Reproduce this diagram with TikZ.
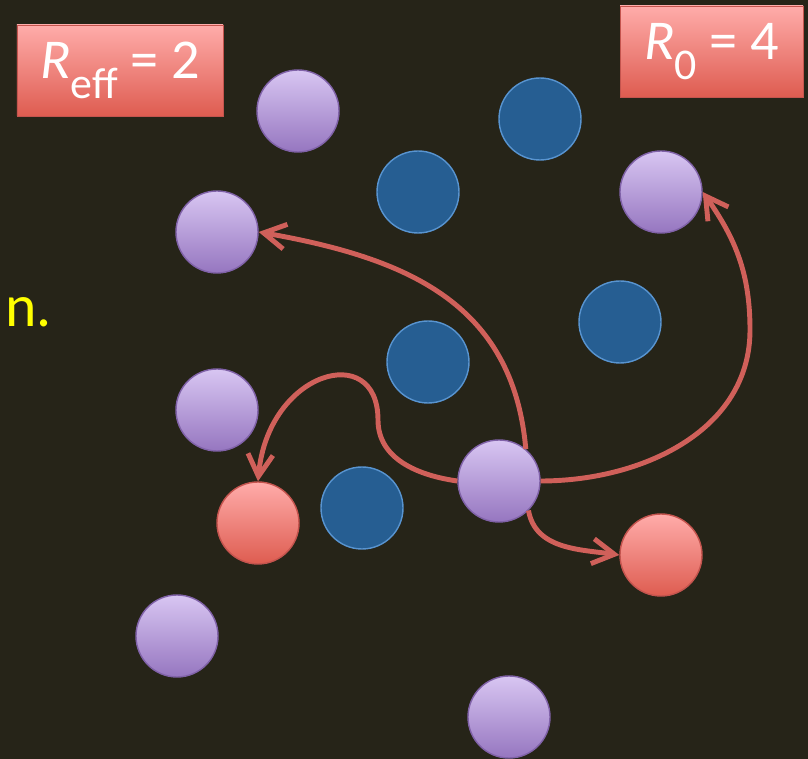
\documentclass[tikz,border=0pt]{standalone}
\usepackage{fontspec}
\setmainfont{Carlito}
\usetikzlibrary{arrows.meta}
\definecolor{bgdark}{RGB}{38,36,24}
\definecolor{spreadred}{RGB}{208,96,90}
\definecolor{purtop}{RGB}{216,198,242}
\definecolor{purbot}{RGB}{150,118,192}
\definecolor{purline}{RGB}{128,98,168}
\definecolor{redtop}{RGB}{255,172,170}
\definecolor{redbot}{RGB}{222,92,80}
\definecolor{redline}{RGB}{196,84,78}
\definecolor{bluefill}{RGB}{38,94,146}
\definecolor{blueline}{RGB}{88,148,208}
\definecolor{hiyellow}{RGB}{255,255,0}
\newcommand{\lowsub}[1]{\raisebox{-0.36em}{\fontsize{25}{25}\selectfont #1}}

\begin{document}
\begin{tikzpicture}[pers/.style={circle,minimum size=1.64cm,inner sep=0pt,line width=0.8pt}, sus/.style={pers,draw=purline,top color=purtop,bottom color=purbot}, inf/.style={pers,draw=redline,top color=redtop,bottom color=redbot}, imm/.style={pers,draw=blueline,fill=bluefill}, rbox/.style={draw=redline,top color=redtop,bottom color=redbot,minimum height=1.82cm,inner sep=0pt,text=white,font=\fontsize{32}{36}\selectfont}, arr/.style={-{Straight Barb[length=4.4mm,width=5mm]},line width=2.8pt,spreadred}]
\fill[bgdark] (0,0) rectangle (16.16,15.18);
\useasboundingbox (0,0) rectangle (16.16,15.18);
\node[rbox,minimum width=4.12cm] (reff) at (2.40,13.77) {\textit{R}\lowsub{eff} = 2};
\node[rbox,minimum width=3.66cm] (rzero) at (14.23,14.15) {\textit{R}\lowsub{0} = 4};
\node[anchor=base west,inner sep=0pt,text=hiyellow,font=\fontsize{34}{38}\selectfont] (tail) at (0.10,8.64) {n.};
\node[sus] (p1) at (5.96,12.96) {};
\node[sus] (p2) at (4.34,10.54) {};
\node[sus] (p3) at (13.22,11.34) {};
\node[sus] (p4) at (4.34,6.98) {};
\node[sus] (pc) at (9.98,5.56) {};
\node[sus] (p5) at (3.54,2.46) {};
\node[sus] (p6) at (10.18,0.84) {};
\node[imm] (b1) at (10.80,12.80) {};
\node[imm] (b2) at (8.36,11.34) {};
\node[imm] (b3) at (12.40,8.74) {};
\node[imm] (b4) at (8.56,7.94) {};
\node[imm] (b5) at (7.24,5.02) {};
\node[inf] (r1) at (5.16,4.72) {};
\node[inf] (r2) at (13.22,4.08) {};
\coordinate (bendl) at (7.56,6.78);
\coordinate (bendr) at (15.00,8.58);
\draw[arr] (pc.50) to[out=95,in=-10,looseness=1.1] (p2.east); \draw[arr] (pc.west) to[out=172,in=-90] (bendl) .. controls +(0,1.6) and +(0.2,2.2) .. (r1.north); \draw[arr] (pc.east) to[out=0,in=-90] (bendr) to[out=90,in=-55] (p3.east); \draw[arr] (pc.-45) to[out=-80,in=172] (r2.west);
\end{tikzpicture}
\end{document}
